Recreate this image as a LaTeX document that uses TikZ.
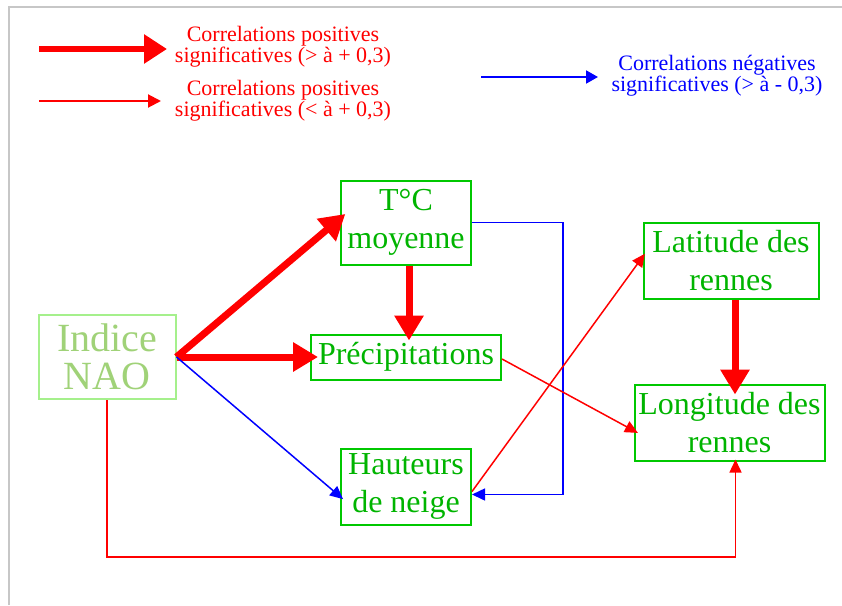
\documentclass[tikz,border=0pt]{standalone}
\usepackage{fontspec}
\setmainfont{Liberation Serif}
\usetikzlibrary{arrows.meta,positioning,calc}
\definecolor{cbox}{RGB}{0,200,0}
\definecolor{cboxtxt}{RGB}{0,180,0}
\definecolor{cnao}{RGB}{165,240,140}
\definecolor{cnaotxt}{RGB}{160,210,120}
\colorlet{cpos}{red}
\colorlet{cneg}{blue}
\colorlet{cframe}{black!22}

\begin{document}
\begin{tikzpicture}[x=1pt, y=-1pt,
  varbox/.style={draw=cbox, text=cboxtxt, line width=2pt, inner sep=0pt, align=center,
    font=\fontsize{32}{38}\selectfont},
  legtxt/.style={align=center, font=\fontsize{22}{20}\selectfont},
  strongpos/.style={draw=cpos, line width=7pt, -{Triangle[length=25pt,width=28pt]}},
  weakpos/.style={draw=cpos, line width=1.5pt, -{Triangle[length=13pt,width=12pt]}},
  negcor/.style={draw=cneg, line width=1.5pt, -{Triangle[length=13pt,width=12pt]}}]
\useasboundingbox (0,0) rectangle (842,605);
\draw[cframe, line width=1.5pt] (9,605) -- (9,7) -- (842,7);
% legende
\coordinate (l1a) at (39,49);
\coordinate (l1b) at (167,49);
\coordinate (l2a) at (39,101);
\coordinate (l2b) at (161,101);
\coordinate (l3a) at (481,77);
\coordinate (l3b) at (598,77);
\draw[cpos, line width=6pt, -{Triangle[length=23pt,width=28pt]}] (l1a) -- (l1b);
\draw[cpos, line width=2pt, -{Triangle[length=13pt,width=13pt]}] (l2a) -- (l2b);
\draw[cneg, line width=2pt, -{Triangle[length=12pt,width=13pt]}] (l3a) -- (l3b);
\node[legtxt, text=cpos] (leg1) at (283,47) {Correlations positives\\significatives (> à + 0,3)};
\node[legtxt, text=cpos] (leg2) at (283,101) {Correlations positives\\significatives (< à + 0,3)};
\node[legtxt, text=cneg] (leg3) at (717,76) {Correlations négatives\\significatives (> à - 0,3)};
% variables
\node[varbox, draw=cnao, text=cnaotxt, font=\fontsize{40}{38}\selectfont,
  minimum width=137pt, minimum height=84pt] (nao) at (107,357) {Indice\\NAO};
\node[varbox, minimum width=130pt, minimum height=84pt] (tc) at (406,222.5) {T°C\\moyenne};
\node[varbox, minimum width=190pt, minimum height=45pt] (precip) at (406,357) {Précipitations};
\node[varbox, minimum width=130pt, minimum height=76pt] (haut) at (406,486.5) {Hauteurs\\de neige};
\node[varbox, minimum width=175pt, minimum height=76pt] (lat) at (731,261) {Latitude des\\rennes};
\node[varbox, minimum width=190pt, minimum height=76pt] (long) at (729.5,422.5) {Longitude des\\rennes};
% correlations
\draw[strongpos, shorten >=-7pt] (nao.east) -- ([yshift=4pt]tc.west);
\draw[strongpos, shorten >=-8pt] (nao.east) -- (precip.west);
\draw[strongpos, shorten >=-7pt] ([xshift=3pt]tc.south) -- ([xshift=3pt]precip.north);
\draw[strongpos, shorten >=-11pt] ([xshift=4pt]lat.south) -- ([xshift=4pt]lat.south |- long.north);
\draw[negcor, shorten >=-4pt] (nao.east) -- ([yshift=-10pt]haut.west);
\draw[negcor] (tc.east) -- ++(91,0) |- ([yshift=-8pt]haut.east);
\draw[weakpos, shorten >=-4pt] ([yshift=-5pt]haut.east) -- ([yshift=4pt]lat.west);
\draw[weakpos, shorten >=-5pt] ([yshift=-2pt]precip.east) -- ([yshift=-8pt]long.west);
\draw[weakpos, shorten >=-2pt] (nao.south) -- ++(0,157) -| ([xshift=6pt]long.south);
\end{tikzpicture}
\end{document}
